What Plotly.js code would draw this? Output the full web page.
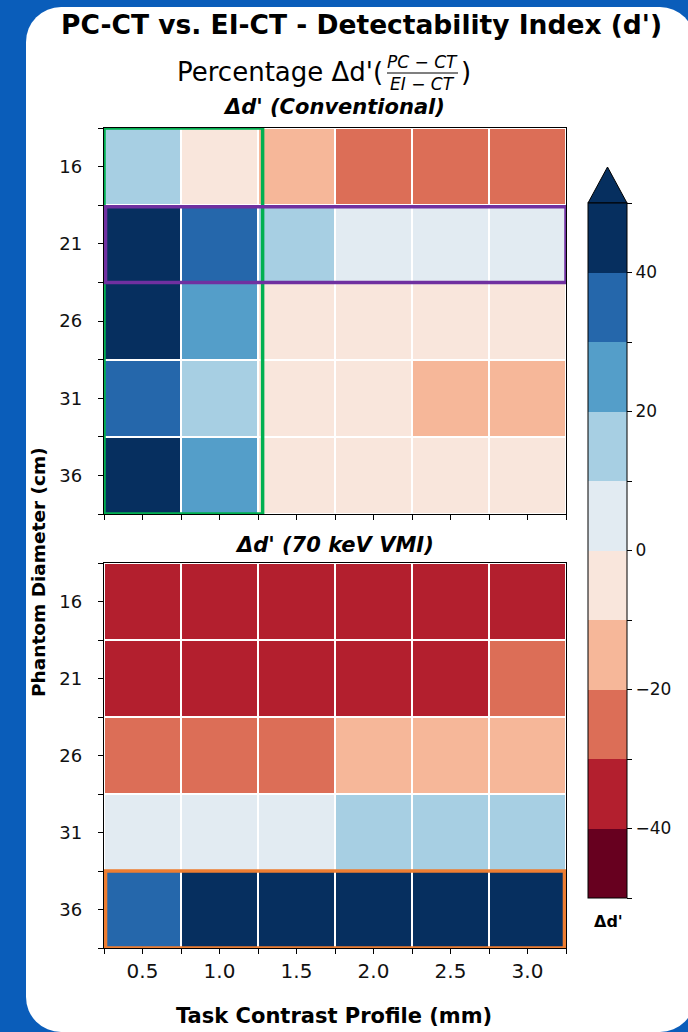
<!DOCTYPE html>
<html>
<head>
<meta charset="utf-8">
<script src="https://cdn.plot.ly/plotly-3.0.1.min.js"></script>
<style>
  html, body { margin: 0; padding: 0; width: 688px; height: 1032px; overflow: hidden; background: #0a5dba; }
  #panel { position: absolute; left: 26px; top: 7px; width: 669px; height: 1025px; background: #ffffff; border-radius: 35px; }
  #chart { position: absolute; left: 0; top: 0; width: 688px; height: 1032px; }
</style>
</head>
<body>
<div id="panel"></div>
<div id="chart"></div>
<script>
// ---- data ----
const contrastProfiles = [0.5, 1.0, 1.5, 2.0, 2.5, 3.0];          // Task Contrast Profile (mm)
const phantomDiameters = [16, 21, 26, 31, 36];                     // Phantom Diameter (cm)
const deltaConventional = [
  [ 14,  -6, -15, -26, -27, -25],
  [ 46,  35,  14,   4,   3,   4],
  [ 45,  26,  -4,  -5,  -5,  -4],
  [ 36,  15,  -3,  -4, -14, -13],
  [ 47,  25,  -5,  -4,  -5,  -6]
];
const deltaVMI70 = [
  [-36, -37, -35, -38, -36, -35],
  [-34, -35, -36, -37, -34, -27],
  [-24, -26, -25, -16, -15, -14],
  [  4,   5,   5,  14,  15,  15],
  [ 34,  46,  48,  47,  46,  45]
];
const levelColors = ['#67001f', '#b31f2e', '#dc6e57', '#f6b799', '#f9e6dc',
                     '#e2ebf2', '#a7cfe3', '#549ec9', '#2567ab', '#062f5f'];
const cbTickVals = [-50, -40, -30, -20, -10, 0, 10, 20, 30, 40, 50];
const cbTickText = ['', '\u221240', '', '\u221220', '', '0', '', '20', '', '40', ''];

// ---- helpers (pixel -> paper) ----
const W = 688, H = 1032;
const px = v => v / W;
const py = v => 1 - v / H;

const colorscale = [];
levelColors.forEach((c, i) => { colorscale.push([i / 10, c]); colorscale.push([(i + 1) / 10, c]); });

const FONT = 'DejaVu Sans';

const trace1 = {
  type: 'heatmap', x: contrastProfiles, y: phantomDiameters, z: deltaConventional,
  zmin: -50, zmax: 50, colorscale: colorscale, xgap: 2, ygap: 2,
  xaxis: 'x', yaxis: 'y', showscale: true,
  colorbar: {
    x: px(588), xanchor: 'left', xpad: 0,
    y: py(550.5), yanchor: 'middle', ypad: 0,
    thickness: 39, thicknessmode: 'pixels',
    len: 695, lenmode: 'pixels',
    outlinewidth: 1, outlinecolor: '#000',
    tickmode: 'array', tickvals: cbTickVals, ticktext: cbTickText,
    ticks: 'outside', ticklen: 5, tickcolor: '#000', tickwidth: 1,
    ticklabelstandoff: 6,
    tickfont: { family: FONT, size: 17, color: '#111' }
  }
};
const trace2 = {
  type: 'heatmap', x: contrastProfiles, y: phantomDiameters, z: deltaVMI70,
  zmin: -50, zmax: 50, colorscale: colorscale, xgap: 2, ygap: 2,
  xaxis: 'x2', yaxis: 'y2', showscale: false
};

const xTicks = {
  range: [0.25, 3.25], tickmode: 'array', tickvals: contrastProfiles,
  ticks: 'outside', ticklen: 5, tickcolor: '#000', tickwidth: 1,
  minor: { ticks: 'outside', ticklen: 5, tickcolor: '#000', tickwidth: 1, tickmode: 'array', tickvals: [0.25, 0.75, 1.25, 1.75, 2.25, 2.75, 3.25] },
  showline: true, mirror: true, linecolor: '#000', linewidth: 1.2,
  showgrid: false, zeroline: false, fixedrange: true
};
const yTicks = {
  range: [38.5, 13.5], tickmode: 'array', tickvals: phantomDiameters,
  ticks: 'outside', ticklen: 5, tickcolor: '#000', tickwidth: 1,
  minor: { ticks: 'outside', ticklen: 5, tickcolor: '#000', tickwidth: 1, tickmode: 'array', tickvals: [13.5, 18.5, 23.5, 28.5, 33.5, 38.5] },
  showline: true, mirror: true, linecolor: '#000', linewidth: 1.2,
  showgrid: false, zeroline: false, fixedrange: true,
  ticklabelstandoff: 12,
  tickfont: { family: FONT, size: 18, color: '#111' }
};

const xDomain = [px(104), px(566)];
const layout = {
  width: W, height: H,
  margin: { l: 0, r: 0, t: 0, b: 0, pad: 0 },
  paper_bgcolor: 'rgba(0,0,0,0)', plot_bgcolor: '#ffffff',
  font: { family: FONT, color: '#000' },
  showlegend: false,
  xaxis: Object.assign({}, xTicks, { domain: xDomain, anchor: 'y', showticklabels: false }),
  yaxis: Object.assign({}, yTicks, { domain: [py(514), py(128)], anchor: 'x' }),
  xaxis2: Object.assign({}, xTicks, { domain: xDomain, anchor: 'y2', showticklabels: true,
           tickformat: '.1f', tickfont: { family: FONT, size: 20, color: '#111' } }),
  yaxis2: Object.assign({}, yTicks, { domain: [py(948), py(563)], anchor: 'x2' }),
  shapes: [
    { type: 'rect', xref: 'x', yref: 'y', x0: 0.25, x1: 1.28, y0: 13.5, y1: 38.5,
      line: { color: '#00b050', width: 3.5 }, fillcolor: 'rgba(0,0,0,0)', layer: 'above' },
    { type: 'rect', xref: 'x', yref: 'y', x0: 0.26, x1: 3.25, y0: 18.6, y1: 23.5,
      line: { color: '#7030a0', width: 3.5 }, fillcolor: 'rgba(0,0,0,0)', layer: 'above' },
    { type: 'rect', xref: 'x2', yref: 'y2', x0: 0.26, x1: 3.24, y0: 33.5, y1: 38.5,
      line: { color: '#ed7d31', width: 3.5 }, fillcolor: 'rgba(0,0,0,0)', layer: 'above' },
    // colorbar "extend max" arrow
    { type: 'path', xref: 'paper', yref: 'paper',
      path: 'M ' + px(588) + ',' + py(203) + ' L ' + px(607.5) + ',' + py(167) + ' L ' + px(627) + ',' + py(203) + ' Z',
      fillcolor: levelColors[9], line: { color: '#000', width: 1 }, layer: 'above' },
    // fraction bar in subtitle
    { type: 'line', xref: 'paper', yref: 'paper', x0: px(387), x1: px(458), y0: py(73), y1: py(73),
      line: { color: '#000', width: 1.2 } }
  ],
  annotations: [
    { text: "<b>PC-CT vs. EI-CT - Detectability Index (d')</b>", x: px(361), y: py(24),
      xref: 'paper', yref: 'paper', showarrow: false, xanchor: 'center', yanchor: 'middle',
      font: { family: FONT, size: 26.5, color: '#000' } },
    { text: "Percentage \u0394d'(", x: px(385), y: py(72),
      xref: 'paper', yref: 'paper', showarrow: false, xanchor: 'right', yanchor: 'middle',
      font: { family: FONT, size: 26, color: '#000' } },
    { text: "<i>PC \u2212 CT</i>", x: px(422), y: py(62),
      xref: 'paper', yref: 'paper', showarrow: false, xanchor: 'center', yanchor: 'middle',
      font: { family: FONT, size: 17, color: '#000' } },
    { text: "<i>EI \u2212 CT</i>", x: px(422), y: py(84),
      xref: 'paper', yref: 'paper', showarrow: false, xanchor: 'center', yanchor: 'middle',
      font: { family: FONT, size: 17, color: '#000' } },
    { text: ")", x: px(459), y: py(72),
      xref: 'paper', yref: 'paper', showarrow: false, xanchor: 'left', yanchor: 'middle',
      font: { family: FONT, size: 26, color: '#000' } },
    { text: "<b><i>\u0394d' (Conventional)</i></b>", x: px(334), y: py(107),
      xref: 'paper', yref: 'paper', showarrow: false, xanchor: 'center', yanchor: 'middle',
      font: { family: FONT, size: 21, color: '#000' } },
    { text: "<b><i>\u0394d' (70 keV VMI)</i></b>", x: px(334), y: py(545),
      xref: 'paper', yref: 'paper', showarrow: false, xanchor: 'center', yanchor: 'middle',
      font: { family: FONT, size: 21, color: '#000' } },
    { text: "<b>Phantom Diameter (cm)</b>", x: px(38), y: py(572), textangle: -90,
      xref: 'paper', yref: 'paper', showarrow: false, xanchor: 'center', yanchor: 'middle',
      font: { family: FONT, size: 18.5, color: '#000' } },
    { text: "<b>Task Contrast Profile (mm)</b>", x: px(334), y: py(1016),
      xref: 'paper', yref: 'paper', showarrow: false, xanchor: 'center', yanchor: 'middle',
      font: { family: FONT, size: 21, color: '#000' } },
    { text: "<b>\u0394d'</b>", x: px(608), y: py(921),
      xref: 'paper', yref: 'paper', showarrow: false, xanchor: 'center', yanchor: 'middle',
      font: { family: FONT, size: 16, color: '#000' } }
  ]
};

Plotly.newPlot('chart', [trace1, trace2], layout, { displayModeBar: false, staticPlot: true });
</script>
</body>
</html>
